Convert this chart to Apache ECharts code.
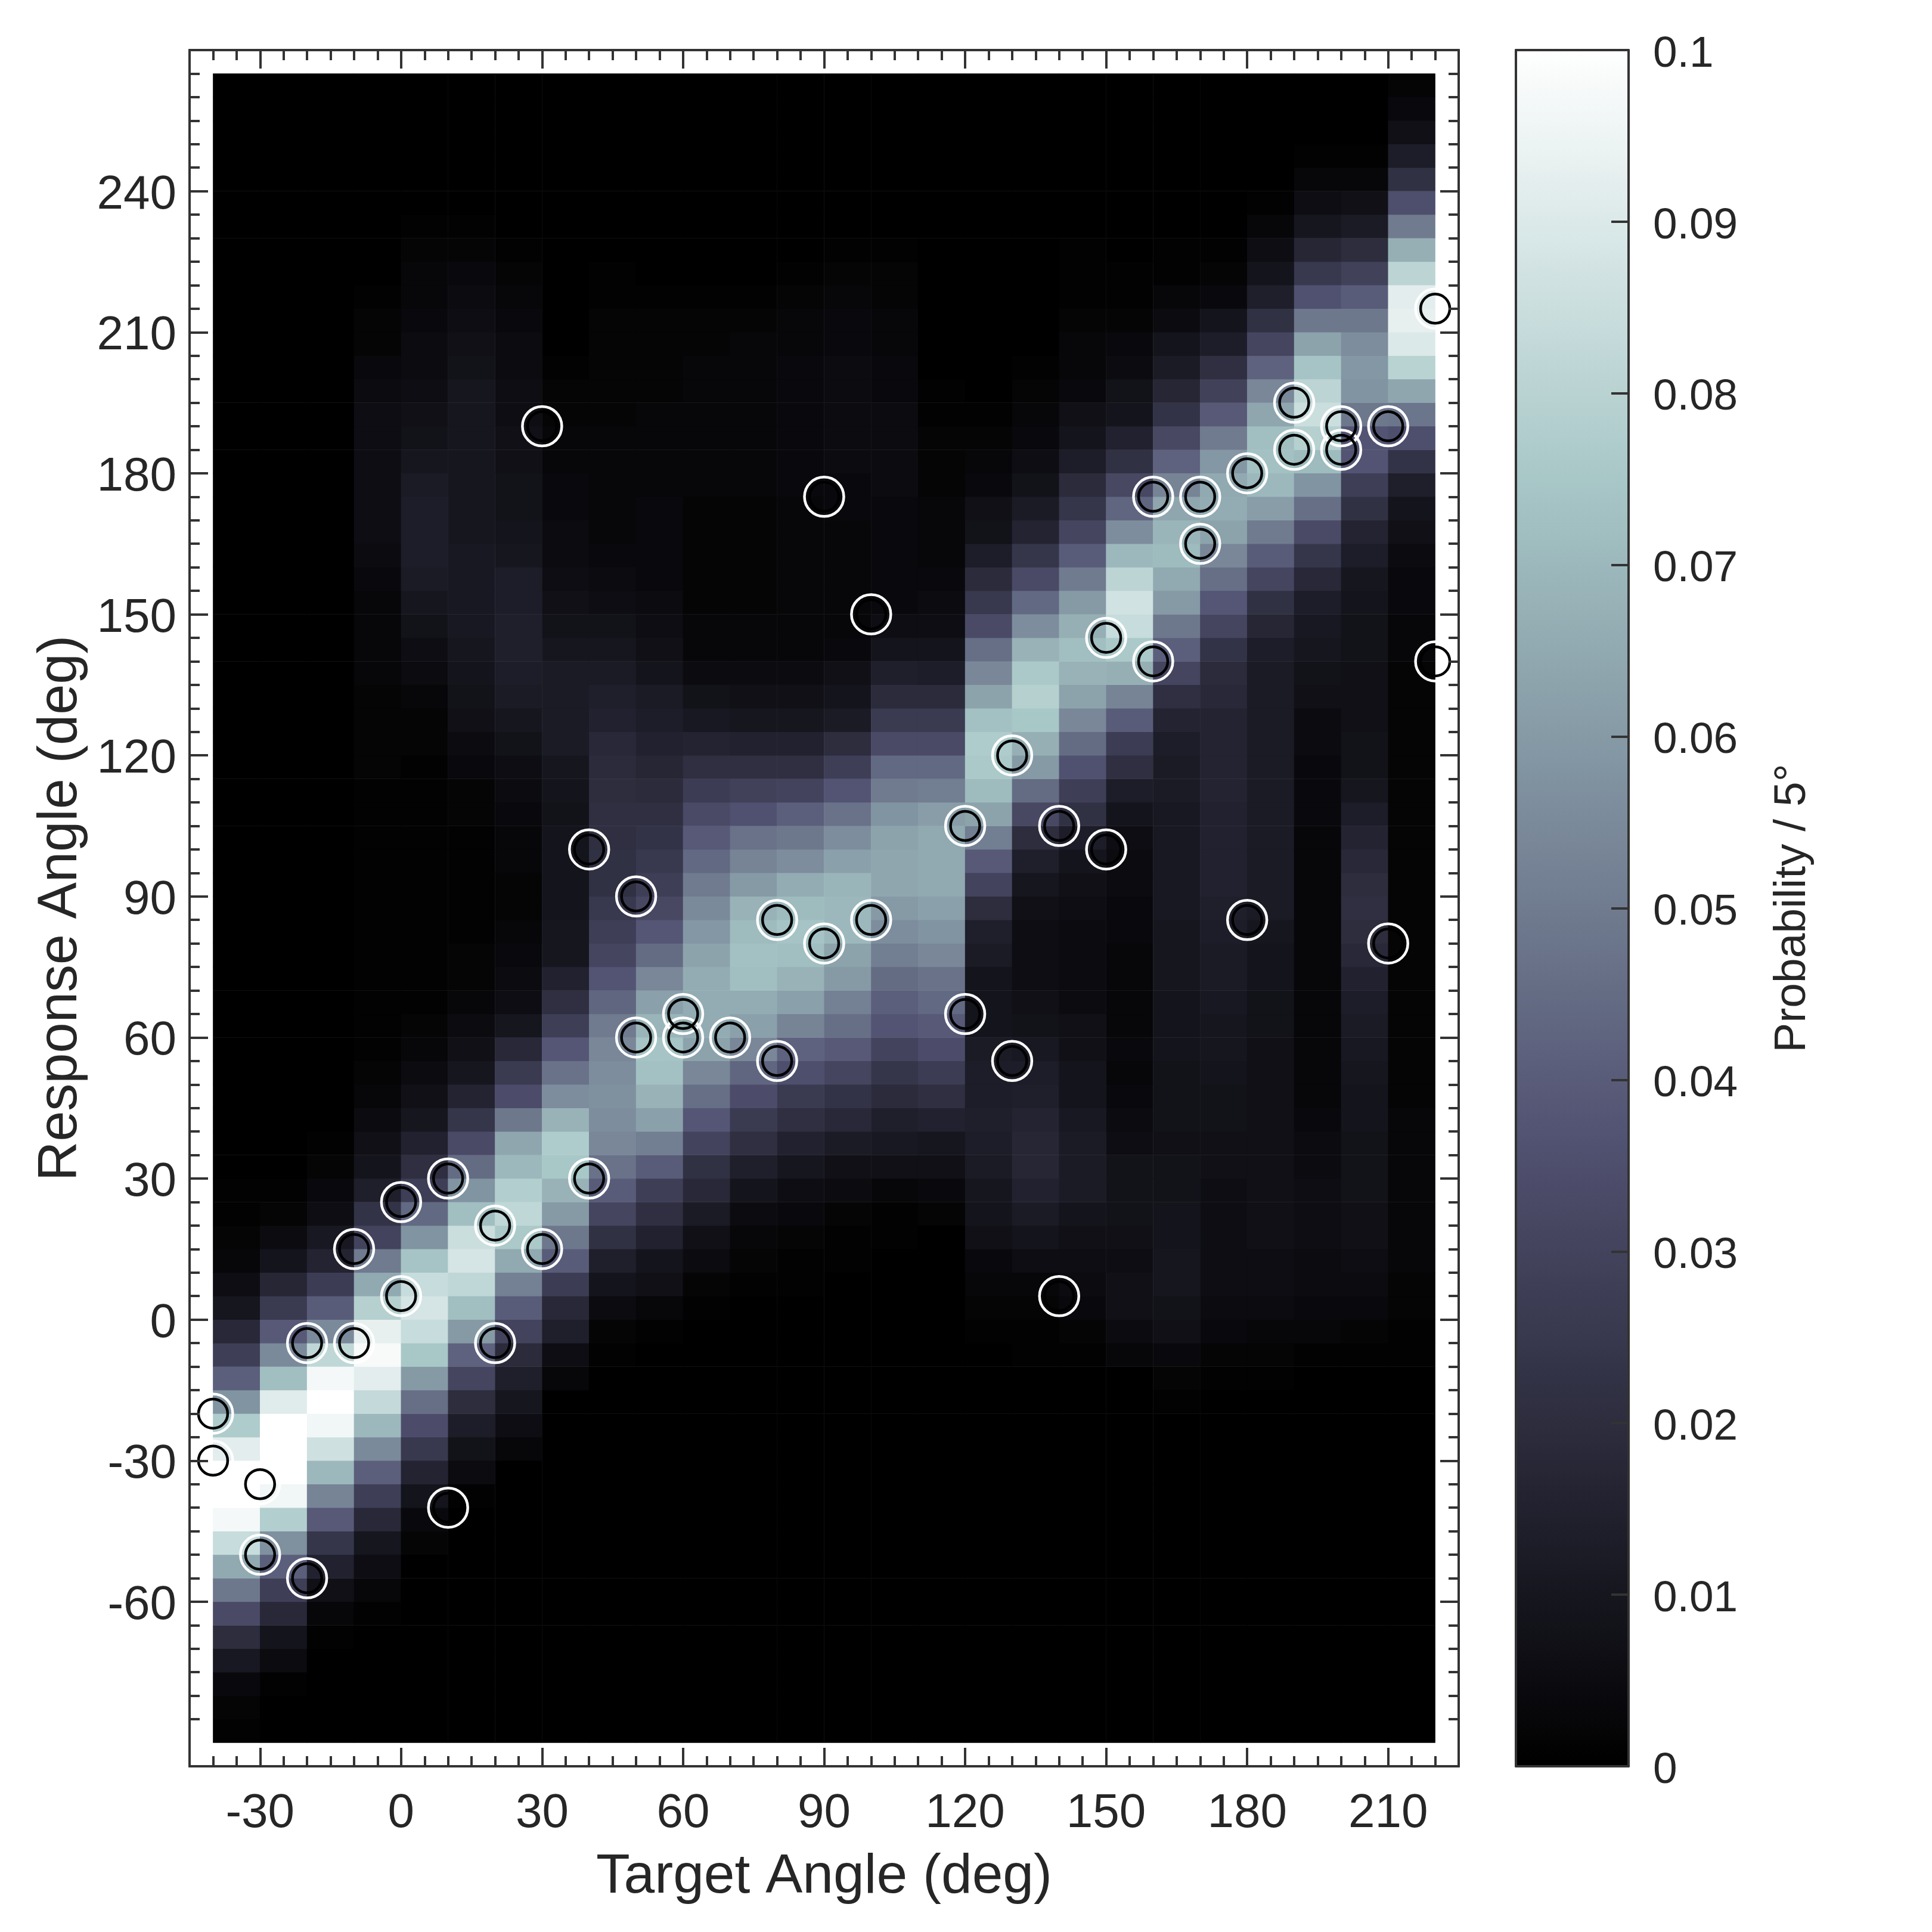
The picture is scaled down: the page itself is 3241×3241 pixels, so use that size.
<!DOCTYPE html>
<html>
<head>
<meta charset="utf-8">
<title>Target vs response angle</title>
<script src="https://cdn.jsdelivr.net/npm/echarts@6/dist/echarts.min.js"></script>
<style>
html, body { margin: 0; padding: 0; background: #fff; }
#chart { width: 3241px; height: 3241px; }
</style>
</head>
<body>
<div id="chart"></div>
<script>
// target angle of each heatmap column (cell covers x .. x+10)
const targetAngles = [-40, -30, -20, -10, 0, 10, 20, 30, 40, 50, 60, 70, 80, 90, 100, 110, 120, 130, 140, 150, 160, 170, 180, 190, 200, 210];

// first response angle of each column below, the rest of the column is zero
const columnStart = [-90, -80, -70, -65, -50, -40, -30, -15, -10, -5, 0, 5, 5, 10, 15, 20, -5, -10, -10, -10, -20, -15, -15, -10, -10, -10];

// probability per 5 deg, in thousandths, going up in steps of 5 deg
const columnValues = [
  [1, 2, 4, 11, 20, 33, 49, 65, 84, 97, 100, 100, 92, 77, 58, 41, 28, 18, 10, 6, 3, 2, 1, 1],
  [1, 5, 9, 18, 28, 41, 57, 78, 96, 100, 100, 100, 91, 72, 55, 39, 26, 17, 9, 5, 2, 1],
  [1, 3, 7, 15, 24, 39, 53, 70, 86, 96, 100, 97, 82, 55, 40, 27, 16, 11, 6, 4, 2, 1],
  [1, 3, 6, 10, 18, 28, 41, 55, 70, 83, 92, 98, 93, 79, 65, 50, 30, 23, 14, 9, 7, 5, 3, 2, 1, 1, 1, 1, 1, 1, 1, 1, 1, 1, 1, 1, 2, 2, 2, 2, 3, 3, 3, 3, 4, 5, 6, 6, 6, 6, 6, 6, 5, 4, 2, 2, 1],
  [2, 4, 9, 16, 25, 34, 46, 60, 75, 84, 88, 84, 74, 58, 44, 28, 21, 15, 10, 7, 5, 3, 2, 1, 1, 1, 1, 1, 1, 1, 1, 1, 1, 1, 2, 2, 3, 5, 6, 8, 10, 12, 13, 13, 13, 12, 10, 8, 7, 6, 5, 5, 4, 3, 3, 2, 1],
  [1, 5, 8, 13, 20, 31, 42, 60, 72, 82, 88, 85, 72, 58, 45, 33, 24, 16, 10, 7, 5, 3, 2, 2, 1, 1, 1, 1, 1, 2, 2, 4, 5, 7, 8, 9, 10, 11, 11, 11, 11, 10, 10, 10, 10, 10, 10, 10, 8, 7, 6, 5, 4, 2, 1],
  [3, 6, 10, 14, 19, 30, 40, 52, 65, 76, 82, 78, 70, 64, 49, 34, 26, 18, 10, 6, 5, 4, 3, 2, 2, 3, 3, 4, 5, 6, 8, 10, 12, 13, 14, 14, 13, 13, 10, 9, 8, 8, 7, 7, 6, 6, 5, 5, 4, 3, 2, 1],
  [3, 6, 14, 18, 27, 40, 49, 60, 68, 75, 77, 68, 56, 47, 38, 28, 21, 15, 10, 10, 9, 9, 9, 9, 8, 9, 10, 12, 12, 12, 12, 10, 8, 7, 6, 5, 5, 4, 4, 3, 3, 2, 2, 1],
  [1, 2, 5, 9, 14, 22, 31, 40, 47, 54, 56, 57, 56, 54, 50, 43, 37, 31, 28, 25, 22, 22, 21, 21, 20, 19, 18, 15, 14, 12, 10, 8, 6, 5, 4, 3, 3, 3, 3, 3, 2, 2, 2, 2, 2, 1, 1],
  [1, 3, 7, 9, 15, 21, 28, 40, 51, 62, 68, 73, 74, 69, 62, 54, 45, 38, 32, 28, 25, 23, 21, 19, 17, 15, 13, 12, 9, 7, 6, 5, 4, 4, 4, 4, 3, 3, 3, 3, 2, 2, 2, 2, 1],
  [1, 2, 5, 7, 12, 18, 22, 30, 38, 46, 54, 63, 66, 66, 66, 63, 59, 55, 50, 44, 39, 33, 27, 21, 16, 11, 8, 5, 3, 3, 2, 2, 2, 2, 2, 3, 3, 3, 3, 3, 3, 2, 2, 1],
  [1, 2, 3, 5, 9, 14, 21, 26, 34, 43, 54, 62, 66, 72, 73, 71, 68, 60, 53, 47, 36, 29, 21, 15, 10, 7, 5, 3, 3, 2, 2, 2, 2, 2, 3, 3, 3, 3, 3, 3, 3, 2, 1],
  [1, 1, 2, 4, 6, 10, 15, 21, 26, 35, 42, 53, 62, 68, 72, 74, 71, 66, 56, 49, 41, 30, 21, 15, 10, 7, 5, 3, 3, 3, 3, 3, 3, 3, 4, 4, 4, 4, 4, 4, 3, 3, 2, 1],
  [1, 1, 2, 5, 7, 12, 18, 23, 31, 39, 46, 52, 60, 63, 70, 70, 69, 62, 56, 47, 37, 28, 20, 12, 9, 7, 4, 3, 3, 3, 3, 3, 4, 4, 5, 5, 5, 5, 5, 4, 4, 3, 2, 1],
  [1, 1, 3, 7, 11, 14, 19, 24, 30, 37, 41, 45, 51, 56, 60, 64, 64, 63, 58, 50, 44, 33, 26, 19, 14, 9, 6, 4, 4, 4, 4, 4, 5, 5, 5, 5, 4, 4, 3, 3, 2, 2, 1],
  [2, 4, 7, 10, 15, 21, 27, 34, 39, 44, 47, 54, 58, 62, 65, 65, 65, 61, 51, 44, 33, 26, 19, 13, 9, 6, 5, 4, 3, 3, 3, 2, 2, 2, 1, 1],
  [1, 2, 3, 4, 7, 9, 10, 12, 13, 14, 13, 13, 12, 9, 9, 9, 12, 14, 20, 30, 39, 51, 63, 71, 76, 77, 73, 63, 54, 46, 33, 25, 19, 13, 8, 7, 4, 3, 2, 1],
  [1, 1, 2, 3, 6, 9, 12, 15, 17, 17, 16, 14, 13, 11, 8, 7, 6, 6, 6, 7, 10, 14, 20, 32, 45, 60, 67, 75, 79, 76, 68, 56, 44, 33, 24, 16, 12, 8, 6, 4, 3, 2, 1],
  [1, 2, 4, 5, 6, 7, 9, 12, 12, 12, 11, 9, 9, 7, 7, 5, 5, 5, 5, 6, 7, 9, 13, 22, 28, 36, 45, 54, 63, 68, 72, 67, 60, 50, 40, 31, 24, 19, 13, 9, 7, 4, 3, 3, 2, 1, 1, 1],
  [3, 5, 7, 7, 6, 7, 8, 8, 8, 6, 5, 4, 3, 4, 3, 3, 3, 3, 4, 4, 5, 5, 6, 9, 13, 21, 27, 40, 53, 67, 76, 84, 87, 81, 70, 56, 43, 32, 22, 15, 9, 8, 5, 4, 2, 1, 1],
  [1, 2, 4, 7, 8, 10, 10, 9, 9, 8, 8, 7, 8, 8, 8, 9, 9, 9, 10, 10, 10, 11, 11, 11, 11, 11, 12, 12, 13, 16, 21, 31, 41, 49, 60, 65, 71, 69, 64, 53, 42, 32, 23, 17, 12, 9, 5, 3, 1, 1],
  [1, 2, 4, 5, 6, 6, 6, 6, 6, 7, 7, 8, 8, 9, 10, 10, 11, 12, 12, 13, 14, 15, 15, 15, 15, 16, 16, 16, 16, 18, 19, 23, 31, 38, 46, 54, 63, 66, 65, 59, 50, 39, 29, 21, 13, 9, 4, 2, 1],
  [1, 2, 3, 5, 6, 6, 7, 7, 7, 7, 7, 7, 7, 7, 7, 8, 8, 9, 9, 10, 12, 12, 12, 12, 12, 12, 12, 12, 12, 12, 12, 13, 17, 22, 31, 40, 50, 61, 70, 73, 72, 64, 54, 42, 31, 22, 14, 9, 6, 3, 1],
  [1, 3, 4, 5, 5, 6, 6, 6, 5, 5, 4, 3, 3, 3, 3, 3, 3, 3, 3, 3, 3, 3, 3, 4, 4, 4, 5, 5, 7, 8, 10, 11, 13, 18, 24, 33, 46, 58, 71, 79, 85, 81, 74, 63, 49, 36, 25, 17, 10, 6, 3, 1],
  [1, 2, 4, 5, 6, 7, 7, 8, 8, 8, 9, 9, 10, 11, 12, 13, 15, 18, 20, 21, 20, 18, 16, 13, 10, 8, 8, 7, 7, 7, 8, 8, 9, 10, 13, 16, 22, 28, 37, 37, 49, 58, 59, 56, 49, 40, 29, 20, 12, 7, 3, 1],
  [1, 1, 2, 2, 3, 3, 3, 3, 3, 3, 3, 2, 2, 2, 2, 2, 2, 2, 2, 2, 2, 2, 2, 2, 2, 2, 2, 2, 2, 2, 3, 3, 4, 4, 5, 7, 9, 14, 23, 35, 48, 64, 80, 90, 93, 92, 81, 67, 50, 35, 22, 13, 7, 4, 2]
];

// the trials drawn as circles
const trialTargets = [-40, -40, -30, -30, -20, -20, -10, -10, 0, 0, 10, 10, 20, 20, 30, 30, 40, 40, 50, 50, 60, 60, 70, 80, 80, 90, 90, 100, 100, 120, 120, 130, 130, 140, 140, 150, 150, 160, 160, 170, 170, 180, 180, 190, 190, 200, 200, 210, 210, 220, 220];
const trialResponses = [-20, -30, -35, -50, -55, -5, -5, 15, 25, 5, 30, -40, 20, -5, 15, 190, 30, 100, 90, 60, 65, 60, 60, 85, 55, 80, 175, 85, 150, 105, 65, 120, 55, 105, 5, 145, 100, 175, 140, 175, 165, 180, 85, 195, 185, 190, 185, 190, 80, 215, 140];

// ticks and labels
const angleTicks = [-60, -30, 0, 30, 60, 90, 120, 150, 180, 210, 240];
const targetTicks = [-30, 0, 30, 60, 90, 120, 150, 180, 210];
const colorbarTicks = [0, 0.01, 0.02, 0.03, 0.04, 0.05, 0.06, 0.07, 0.08, 0.09, 0.1];

const frameColor = '#333333';
const textColor = '#262626';
const fontName = '"Liberation Sans", Arial, sans-serif';

// matplotlib bone colormap
function bone(t) {
  let r = t < 0.746 ? 0.875 * t : 0.6528 + (t - 0.746) * 1.3672;
  let g = t < 0.365 ? 0.875 * t : (t < 0.746 ? 0.3194 + (t - 0.365) * 1.2031 : 0.7778 + (t - 0.746) * 0.875);
  let b = t < 0.365 ? 1.2174 * t : 0.4444 + (t - 0.365) * 0.875;
  return 'rgb(' + Math.round(r * 255) + ',' + Math.round(g * 255) + ',' + Math.round(b * 255) + ')';
}
let boneColors = [];
for (let i = 0; i <= 40; i++) {
  boneColors.push(bone(i / 40));
}

// 5 deg minor ticks between the labelled ones
function minorTicks(from, to) {
  let ticks = [];
  for (let v = from; v <= to; v += 5) {
    if (v % 30 != 0) ticks.push(v);
  }
  return ticks;
}

// response categories -90 .. 260
let responseAngles = [];
for (let v = -90; v <= 260; v += 5) {
  responseAngles.push(v);
}

let cells = [];
columnValues.forEach(function (values, col) {
  let startRow = responseAngles.indexOf(columnStart[col]);
  responseAngles.forEach(function (y, row) {
    let v = values[row - startRow];
    cells.push([col, row, (v === undefined ? 0 : v) / 1000]);
  });
});

let trials = trialTargets.map(function (x, i) {
  return [x, trialResponses[i]];
});

function frameAxis(position, min, max, ticks, length, grid, labels) {
  let isX = position == 'top' || position == 'bottom';
  let axisLabel = { show: false };
  if (labels) {
    axisLabel = {
      show: true,
      customValues: labels,
      fontFamily: fontName,
      fontSize: 80,
      color: textColor,
      margin: isX ? 40 : 22
    };
    if (!isX) {
      // the digits sit a little high otherwise
      axisLabel.formatter = function (v) { return '{a|' + v + '}'; };
      axisLabel.rich = { a: { fontFamily: fontName, fontSize: 80, color: textColor, padding: [14, 0, 0, 0] } };
    }
  }
  return {
    type: 'value',
    gridIndex: grid,
    position: position,
    min: min,
    max: max,
    z: 10,
    splitLine: { show: false },
    axisLine: { show: true, onZero: false, lineStyle: { color: frameColor, width: 4 } },
    axisTick: {
      show: true,
      inside: true,
      length: length,
      customValues: ticks,
      lineStyle: { color: frameColor, width: 4 }
    },
    axisLabel: axisLabel
  };
}

const mainGrid = { left: 318, top: 84, width: 2129, height: 2879 };
const minorX = minorTicks(-40, 220);
const minorY = minorTicks(-90, 265);

let xBottom = frameAxis('bottom', -45, 225, targetTicks, 31, 0, targetTicks);
xBottom.name = 'Target Angle (deg)';
xBottom.nameLocation = 'middle';
xBottom.nameGap = 140;
xBottom.nameTextStyle = { fontFamily: fontName, fontSize: 93, color: textColor };

let yLeft = frameAxis('left', -95, 270, angleTicks, 31, 0, angleTicks);
yLeft.name = 'Response Angle (deg)';
yLeft.nameLocation = 'middle';
yLeft.nameGap = 169;
yLeft.nameTextStyle = { fontFamily: fontName, fontSize: 92, color: textColor };

let barY = {
  type: 'value',
  gridIndex: 2,
  position: 'right',
  min: 0,
  max: 0.1,
  z: 10,
  splitLine: { show: false },
  axisLine: { show: true, onZero: false, lineStyle: { color: frameColor, width: 4 } },
  axisTick: { show: true, inside: true, length: 29, customValues: colorbarTicks, lineStyle: { color: frameColor, width: 4 } },
  axisLabel: {
    show: true,
    customValues: colorbarTicks,
    margin: 41,
    formatter: function (v) { return '{a|' + Math.round(v * 100) / 100 + '}'; },
    rich: { a: { fontFamily: fontName, fontSize: 73, color: textColor, padding: [15, 0, 0, 0] } }
  },
  name: 'Probability / 5°',
  nameLocation: 'middle',
  nameRotate: 90,
  nameGap: 238,
  nameTextStyle: { fontFamily: fontName, fontSize: 75, color: textColor }
};

function barFrame(position) {
  return {
    type: 'value',
    gridIndex: 2,
    position: position,
    min: 0,
    max: 1,
    z: 10,
    splitLine: { show: false },
    axisTick: { show: false },
    axisLabel: { show: false },
    axisLine: { show: true, onZero: false, lineStyle: { color: frameColor, width: 4 } }
  };
}

let chart = echarts.init(document.getElementById('chart'), null, { renderer: 'canvas', width: 3241, height: 3241 });

chart.setOption({
  backgroundColor: '#ffffff',
  animation: false,
  textStyle: { fontFamily: fontName },
  grid: [
    mainGrid,
    mainGrid,
    { left: 2543, top: 84, width: 189, height: 2879 },
    { left: 357.4, top: 123.4, width: 2050.2, height: 2800.2 }
  ],
  xAxis: [
    xBottom,
    frameAxis('top', -45, 225, targetTicks, 31, 0),
    frameAxis('bottom', -45, 225, minorX, 17, 1),
    frameAxis('top', -45, 225, minorX, 17, 1),
    barFrame('bottom'),
    barFrame('top'),
    { type: 'category', gridIndex: 3, data: targetAngles, show: false }
  ],
  yAxis: [
    yLeft,
    frameAxis('right', -95, 270, angleTicks, 31, 0),
    frameAxis('left', -95, 270, minorY, 17, 1),
    frameAxis('right', -95, 270, minorY, 17, 1),
    barY,
    { ...barFrame('left'), max: 0.1 },
    { type: 'category', gridIndex: 3, data: responseAngles, show: false }
  ],
  visualMap: {
    type: 'continuous',
    seriesIndex: 0,
    min: 0,
    max: 0.1,
    left: 2543,
    top: 84,
    padding: 0,
    itemWidth: 189,
    itemHeight: 2879,
    calculable: false,
    hoverLink: false,
    realtime: false,
    inRange: { color: boneColors }
  },
  series: [
    {
      type: 'heatmap',
      xAxisIndex: 6,
      yAxisIndex: 6,
      data: cells,
      progressive: 0,
      itemStyle: { borderWidth: 0 },
      z: 1
    },
    {
      type: 'scatter',
      xAxisIndex: 0,
      yAxisIndex: 0,
      data: trials,
      symbol: 'circle',
      symbolSize: 66,
      clip: false,
      itemStyle: { color: 'transparent', borderColor: '#ffffff', borderWidth: 4.5, opacity: 1 },
      z: 3
    },
    {
      type: 'scatter',
      xAxisIndex: 0,
      yAxisIndex: 0,
      data: trials,
      symbol: 'circle',
      symbolSize: 49,
      clip: false,
      itemStyle: { color: 'transparent', borderColor: '#000000', borderWidth: 4.5, opacity: 1 },
      z: 4
    }
  ]
});
</script>
</body>
</html>
